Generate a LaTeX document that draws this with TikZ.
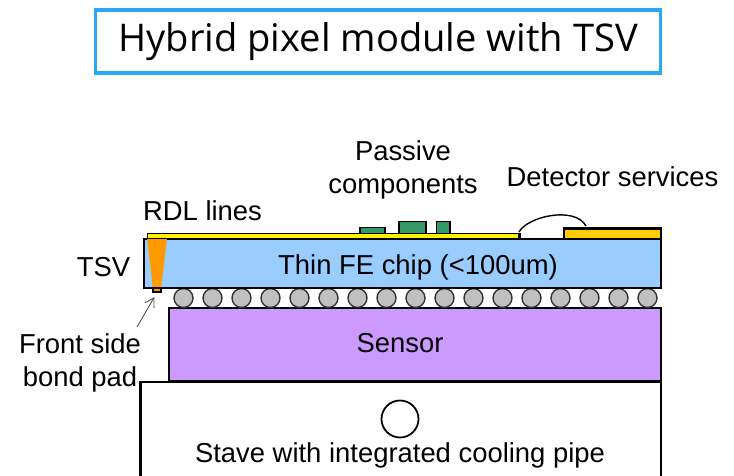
\documentclass[tikz,border=0pt]{standalone}
\usepackage{fontspec}
\usetikzlibrary{arrows.meta}
\setmainfont{Liberation Sans}
\newfontfamily\titlefont{Open Sans}
\definecolor{chipblue}{HTML}{99CCFF}
\definecolor{sensorpurple}{HTML}{CC99FF}
\definecolor{padgold}{HTML}{FFCC00}
\definecolor{tsvorange}{HTML}{FF9900}
\definecolor{passivegreen}{HTML}{339966}
\definecolor{titleblue}{HTML}{29A9F5}
\definecolor{bumpgray}{HTML}{C0C0C0}
\tikzset{
  layer/.style={draw=black,line width=1.7pt},
  lab/.style={inner sep=0pt,align=center,font=\fontsize{15.6}{18.7}\selectfont},
}
\begin{document}
\begin{tikzpicture}[x=0.02cm,y=-0.02cm]
\useasboundingbox (0,0) rectangle (734,476);
% title
\node[draw=titleblue,line width=2.2pt,minimum width=11.3cm,minimum height=1.26cm,inner sep=0pt,font=\titlefont\fontsize{21.7}{26}\selectfont] (title) at (378,41.5) {Hybrid pixel module with TSV};
% stave, open at the bottom
\draw[layer] (140.5,478)--(140.5,382)--(661,382)--(661,478);
\draw[line width=1pt] (400,419) circle (18.5);
% sensor
\filldraw[layer,fill=sensorpurple] (169,308) rectangle (661,381);
% bumps
\foreach \x in {0,...,16} {
\filldraw[draw=black!80,fill=bumpgray,line width=0.8pt] (183.5+29*\x,298) circle (9.5);
}
% chip
\filldraw[layer,fill=chipblue] (144,239) rectangle (661,288);
\fill[tsvorange] (147,238)--(167,238)--(161,289)--(153,289)--cycle;
\node[draw=black,line width=0.9pt,fill=tsvorange,minimum width=0.17cm,minimum height=0.07cm,inner sep=0pt] (bondpad) at (157,290) {};
% top side
\filldraw[draw=black,line width=1.1pt,fill=yellow] (147.5,233.5) rectangle (519.5,238.5);
\draw[layer] (519.5,233)--(519.5,238);
\filldraw[layer,fill=padgold] (564,228.5) rectangle (661,239);
\foreach \xa/\ya/\xb in {360/227.5/385,399/221.5/426,436.5/221.5/450} {
\filldraw[draw=black,line width=1pt,fill=passivegreen] (\xa,233)--(\xa,\ya)--(\xb,\ya)--(\xb,233);
}
\draw[line width=0.8pt] (519,232) .. controls (528,216) and (575,206) .. (586,226);
% labels
\node[lab] (passive) at (403,170) {Passive\\components};
\node[lab] (services) at (612.5,177) {Detector services};
\node[lab] (rdl) at (202.5,210.5) {RDL lines};
\node[lab] (tsv) at (103.5,267) {TSV};
\node[lab] (chip) at (418,267.5) {Thin FE chip (<100um)};
\node[lab] (sensor) at (400,343.5) {Sensor};
\node[lab] (stave) at (400,455) {Stave with integrated cooling pipe};
\node[lab] (front) at (80,363) {Front side\\bond pad};
\coordinate (tail) at (137,327);
\draw[-{Straight Barb[length=5pt,width=6pt]},black!70,line width=0.5pt,shorten >=3pt] (tail)--(bondpad.south);
\end{tikzpicture}
\end{document}
